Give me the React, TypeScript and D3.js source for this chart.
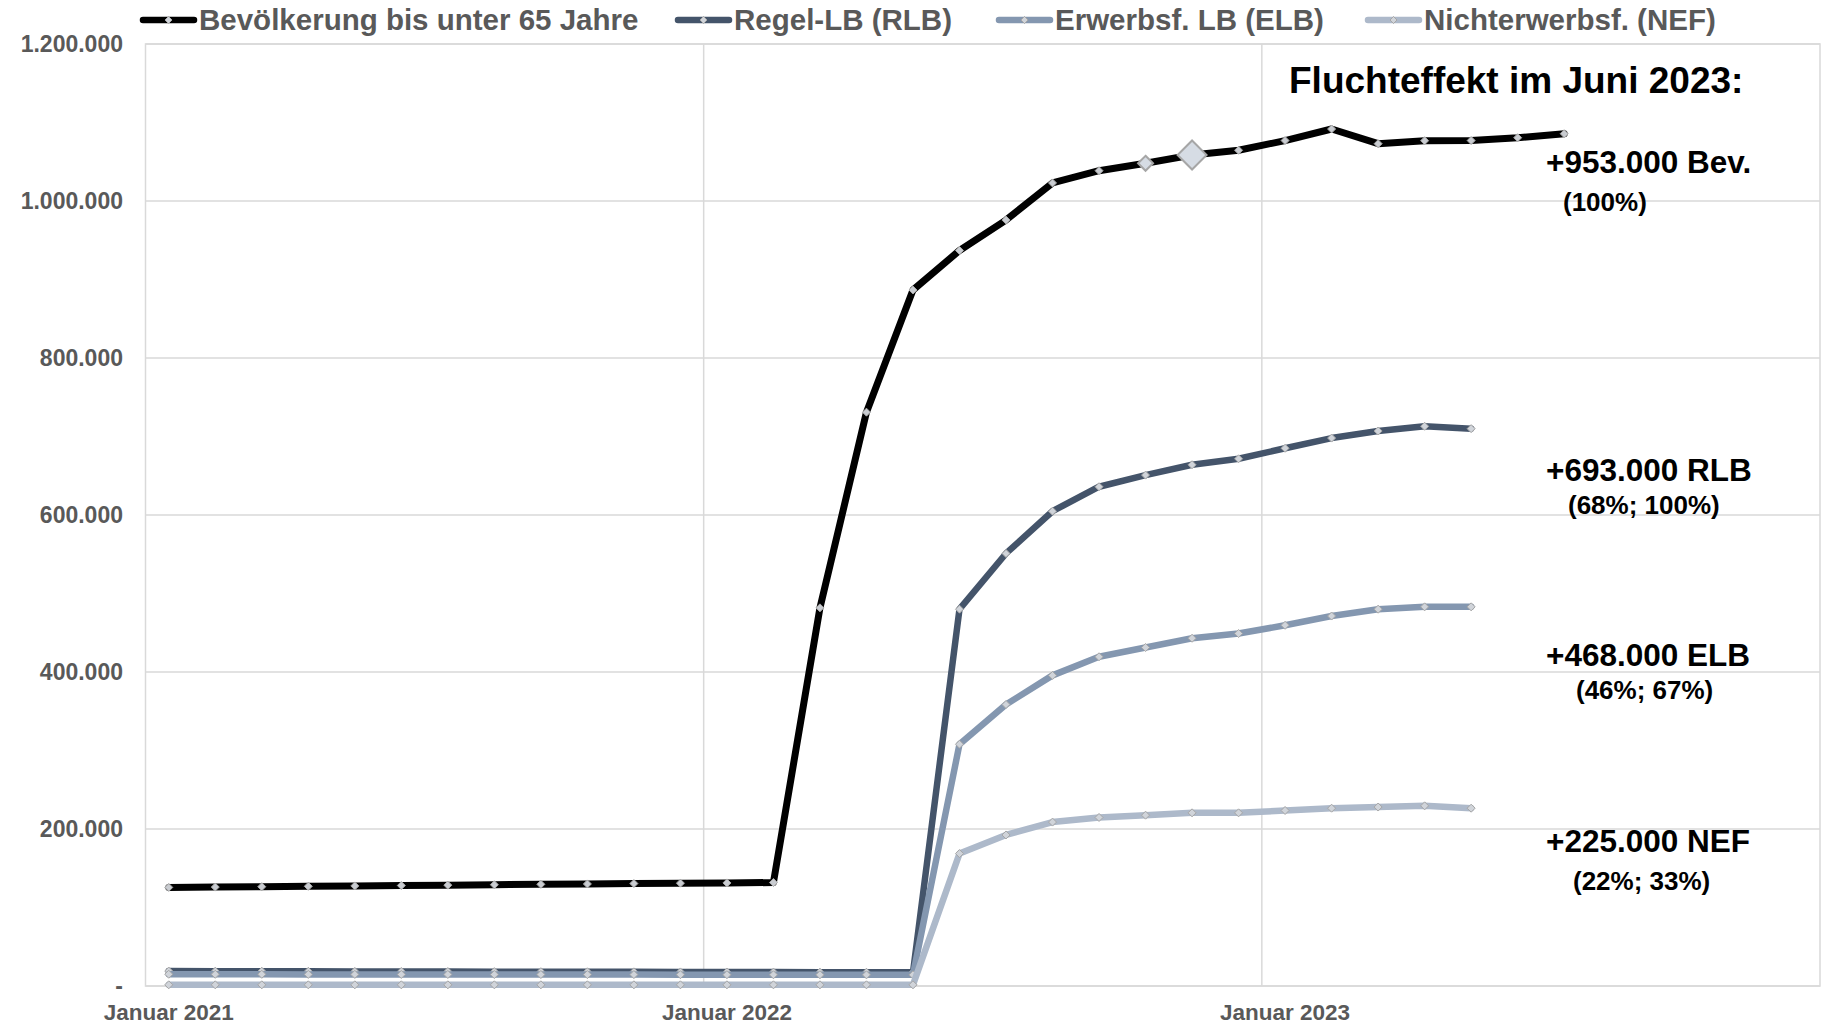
import React from "react";
import * as d3 from "d3";

const months: string[] = [
  "2021-01","2021-02","2021-03","2021-04","2021-05","2021-06","2021-07","2021-08","2021-09","2021-10","2021-11","2021-12",
  "2022-01","2022-02","2022-03","2022-04","2022-05","2022-06","2022-07","2022-08","2022-09","2022-10","2022-11","2022-12",
  "2023-01","2023-02","2023-03","2023-04","2023-05","2023-06","2023-07","2023-08","2023-09","2023-10","2023-11","2023-12",
];

const xTickIdx = [0, 12, 24];
const xTickLabels = ["Januar 2021", "Januar 2022", "Januar 2023"];
const yTicks = [0, 200000, 400000, 600000, 800000, 1000000, 1200000];
const yTickLabels = ["-", "200.000", "400.000", "600.000", "800.000", "1.000.000", "1.200.000"];

const bev = [125600, 126000, 126500, 127000, 127500, 128000, 128500, 129000, 129500, 130000, 130500, 131000, 131300, 131800,
  481700, 731000, 886600, 937000, 975700, 1023000, 1038600, 1048000, 1058600, 1064600, 1077000, 1091700, 1073000, 1076800, 1077000, 1080600, 1085700];
const rlb = [19000, 18900, 18800, 18700, 18600, 18500, 18400, 18300, 18200, 18100, 18000, 17900, 17800, 17700, 17600, 17500, 17400,
  480000, 551000, 604800, 636000, 650800, 664000, 671600, 685000, 698000, 707000, 713000, 710000];
const elb = [15000, 14900, 14900, 14800, 14800, 14700, 14700, 14600, 14600, 14500, 14500, 14400, 14400, 14300, 14300, 14200, 14200,
  308000, 358600, 395700, 419400, 431200, 443000, 449000, 459500, 471300, 480000, 483000, 483000];
const nef = [1500, 1500, 1500, 1500, 1500, 1500, 1500, 1500, 1500, 1500, 1500, 1500, 1500, 1500, 1500, 1500, 1500,
  168700, 192400, 208800, 214700, 217600, 220600, 220600, 223600, 226500, 228000, 229500, 226500];

const seriesNames = ["Bevölkerung bis unter 65 Jahre", "Regel-LB (RLB)", "Erwerbsf. LB (ELB)", "Nichterwerbsf. (NEF)"];
const seriesValues = [bev, rlb, elb, nef];
const seriesColors = ["#000000", "#44546A", "#8497B0", "#ADB9CA"];
const seriesWidths = [7, 6.5, 6.5, 6.5];
const highlightIdx = [21, 22];
const highlightR = [7.5, 14.5];

const annoMain = ["+953.000 Bev.", "+693.000 RLB", "+468.000 ELB", "+225.000 NEF"];
const annoSub = ["(100%)", "(68%; 100%)", "(46%; 67%)", "(22%; 33%)"];
const annoTitle = "Fluchteffekt im Juni 2023:";

const W = 1826, H = 1026;
const L = 145.5, R = 1820, T = 44, B = 986;

const legendX = [140, 675, 996, 1365];
const annoMainY = [173, 481, 666, 852];
const annoSubX = [1563, 1568, 1576, 1573];
const annoSubY = [211, 514, 699, 890];

function diamond(cx: number, cy: number, r: number) {
  return `M${cx},${cy - r}L${cx + r},${cy}L${cx},${cy + r}L${cx - r},${cy}Z`;
}

export default function App() {
  const x = d3.scaleBand<string>().domain(months).range([L, R]).padding(0);
  const y = d3.scaleLinear().domain([0, 1200000]).range([B, T]);
  const cx = (i: number) => (x(months[i]) as number) + x.bandwidth() / 2;
  const line = d3.line<number>().x((_, i) => cx(i)).y((v) => y(v));
  const font = "'Liberation Sans', Arial, sans-serif";

  return (
    <svg width={W} height={H} style={{ position: "absolute", left: 0, top: 0, background: "#fff" }} fontFamily={font}>
      <rect x={0} y={0} width={W} height={H} fill="#fff" />
      {/* gridlines */}
      {yTicks.map((t) => (
        <line key={"gy" + t} x1={L} x2={R} y1={y(t)} y2={y(t)} stroke="#D9D9D9" strokeWidth={1.5} />
      ))}
      {xTickIdx.slice(1).map((i) => (
        <line key={"gx" + i} x1={x(months[i])} x2={x(months[i])} y1={T} y2={B} stroke="#D9D9D9" strokeWidth={1.5} />
      ))}
      <rect x={L} y={T} width={R - L} height={B - T} fill="none" stroke="#D9D9D9" strokeWidth={1.5} />
      {/* y labels */}
      {yTicks.map((t, i) => (
        <text key={"yl" + t} x={123} y={y(t)} dy="0.36em" textAnchor="end" fontSize={23} fontWeight="bold" fill="#595959">
          {yTickLabels[i]}
        </text>
      ))}
      {/* x labels */}
      {xTickIdx.map((idx, i) => (
        <text key={"xl" + idx} x={cx(idx)} y={1020} textAnchor="middle" fontSize={22.5} fontWeight="bold" fill="#595959">
          {xTickLabels[i]}
        </text>
      ))}
      {/* series */}
      {seriesValues.map((vals, s) => (
        <g key={"s" + s}>
          <path d={line(vals) || ""} fill="none" stroke={seriesColors[s]} strokeWidth={seriesWidths[s]}
            strokeLinejoin="round" strokeLinecap="round" />
          {vals.map((v, i) => (
            <path key={i} d={diamond(cx(i), y(v), 4)} fill={s === 0 ? "#C9CCD1" : "#D0D4DA"} stroke="#A6A6A6" strokeWidth={1} />
          ))}
        </g>
      ))}
      {highlightIdx.map((hi, k) => (
        <path key={"hi" + hi} d={diamond(cx(hi), y(bev[hi]), highlightR[k])} fill="#D6DCE4" stroke="#A6A6A6" strokeWidth={2} />
      ))}
      {/* legend */}
      {seriesNames.map((n, s) => (
        <g key={"lg" + s}>
          <line x1={legendX[s] + 3} x2={legendX[s] + 54} y1={20} y2={20} stroke={seriesColors[s]} strokeWidth={6.5} strokeLinecap="round" />
          <path d={diamond(legendX[s] + 28.5, 20, 3.5)} fill="#D0D4DA" stroke="#A6A6A6" strokeWidth={1} />
          <text x={legendX[s] + 59} y={30} fontSize={29.5} fontWeight="bold" fill="#595959">{n}</text>
        </g>
      ))}
      {/* annotations */}
      <text x={1289} y={93} fontSize={37} fontWeight="bold" fill="#000">{annoTitle}</text>
      {annoMain.map((t, i) => (
        <text key={"am" + i} x={1546} y={annoMainY[i]} fontSize={31.5} fontWeight="bold" fill="#000">{t}</text>
      ))}
      {annoSub.map((t, i) => (
        <text key={"as" + i} x={annoSubX[i]} y={annoSubY[i]} fontSize={26} fontWeight="bold" fill="#000">{t}</text>
      ))}
    </svg>
  );
}
